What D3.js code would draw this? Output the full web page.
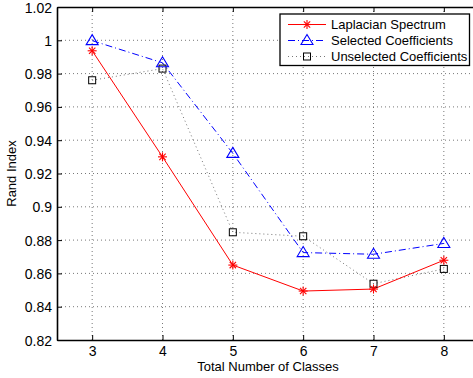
<!DOCTYPE html>
<html>
<head>
<meta charset="utf-8">
<script src="https://cdn.jsdelivr.net/npm/d3@7"></script>
<style>
  html, body { margin: 0; padding: 0; background: #fff; }
  svg { display: block; font-family: "Liberation Sans", Arial, sans-serif; }
</style>
</head>
<body>
<svg id="chart" width="473" height="378"></svg>
<script>
// Rand index versus the number of classes for three feature sets
const classes = [3, 4, 5, 6, 7, 8];
const laplacian = [0.9937, 0.930, 0.865, 0.8494, 0.8506, 0.8679];
const selected = [0.9998, 0.9865, 0.9321, 0.8725, 0.8715, 0.8780];
const unselected = [0.976, 0.983, 0.8847, 0.8823, 0.8538, 0.8627];
const yTicks = [0.82, 0.84, 0.86, 0.88, 0.9, 0.92, 0.94, 0.96, 0.98, 1, 1.02];
const seriesNames = ["Laplacian Spectrum", "Selected Coefficients", "Unselected Coefficients"];

const svg = d3.select("#chart");
const m = { left: 57, top: 7, right: 479, bottom: 340 };

const x = d3.scaleLinear().domain([2.5, 8.5]).range([m.left, m.right]);
const y = d3.scaleLinear().domain([0.82, 1.02]).range([m.bottom, m.top]);

// dotted grid
const grid = svg.append("g").attr("stroke", "#555").attr("stroke-width", 0.8)
  .attr("stroke-dasharray", "1,3");
classes.forEach(c => grid.append("line")
  .attr("x1", x(c)).attr("x2", x(c)).attr("y1", m.top).attr("y2", m.bottom));
yTicks.slice(1, -1).forEach(t => grid.append("line")
  .attr("x1", m.left).attr("x2", m.right).attr("y1", y(t)).attr("y2", y(t)));

// axes with inward ticks
const xAxis = svg.append("g").attr("transform", `translate(0,${m.bottom})`)
  .call(d3.axisBottom(x).tickValues(classes).tickFormat(d3.format("d"))
    .tickSizeInner(-5).tickSizeOuter(0).tickPadding(6));
const xTop = svg.append("g").attr("transform", `translate(0,${m.top})`)
  .call(d3.axisTop(x).tickValues(classes).tickSizeInner(-5).tickSizeOuter(0).tickFormat(""));
const yAxis = svg.append("g").attr("transform", `translate(${m.left},0)`)
  .call(d3.axisLeft(y).tickValues(yTicks).tickFormat(d => d3.format("")(+d.toFixed(2)))
    .tickSizeInner(-5).tickSizeOuter(0).tickPadding(5));
[xAxis, xTop, yAxis].forEach(a => {
  a.select(".domain").attr("stroke", "#000").attr("stroke-width", 1.6);
  a.selectAll(".tick line").attr("stroke", "#000");
  a.selectAll(".tick text").attr("fill", "#000").style("font-size", "14px");
});
yAxis.selectAll(".tick text").attr("dy", "0.36em");

// axis titles
svg.append("text").attr("x", x(5.5)).attr("y", 371).attr("text-anchor", "middle")
  .style("font-size", "13px").text("Total Number of Classes");
svg.append("text").attr("transform", `translate(16,${y(0.92)}) rotate(-90)`)
  .attr("text-anchor", "middle").style("font-size", "13px").text("Rand Index");

const line = d3.line().x((d, i) => x(classes[i])).y(d => y(d));

function star(g, cx, cy, r, color) {
  for (let k = 0; k < 4; k++) {
    const a = k * Math.PI / 4;
    g.append("line").attr("x1", cx - r * Math.cos(a)).attr("y1", cy - r * Math.sin(a))
      .attr("x2", cx + r * Math.cos(a)).attr("y2", cy + r * Math.sin(a))
      .attr("stroke", color).attr("stroke-width", 1.1);
  }
}
function tri(g, cx, cy, color) {
  g.append("path").attr("d", `M${cx},${cy - 6}L${cx + 6},${cy + 4}L${cx - 6},${cy + 4}Z`)
    .attr("fill", "none").attr("stroke", color).attr("stroke-width", 1.1);
}
function sq(g, cx, cy) {
  g.append("rect").attr("x", cx - 3.5).attr("y", cy - 3.5).attr("width", 7).attr("height", 7)
    .attr("fill", "none").attr("stroke", "#000").attr("stroke-width", 1);
}

const plot = svg.append("g");
plot.append("path").datum(unselected).attr("d", line).attr("fill", "none")
  .attr("stroke", "#777").attr("stroke-width", 1).attr("stroke-dasharray", "1,3");
plot.append("path").datum(selected).attr("d", line).attr("fill", "none")
  .attr("stroke", "#0000ff").attr("stroke-width", 1).attr("stroke-dasharray", "7,3,1,3");
plot.append("path").datum(laplacian).attr("d", line).attr("fill", "none")
  .attr("stroke", "#ff0000").attr("stroke-width", 1);
unselected.forEach((v, i) => sq(plot, x(classes[i]), y(v)));
selected.forEach((v, i) => tri(plot, x(classes[i]), y(v), "#0000ff"));
laplacian.forEach((v, i) => star(plot, x(classes[i]), y(v), 4.5, "#ff0000"));

// legend
const lg = svg.append("g");
lg.append("rect").attr("x", 280).attr("y", 14).attr("width", 189.5).attr("height", 51.5)
  .attr("fill", "#fff").attr("stroke", "#000").attr("stroke-width", 1.3);
const rows = [24.5, 40.5, 56.5];
const styles = [
  { stroke: "#ff0000", dash: null },
  { stroke: "#0000ff", dash: "7,3,1,3" },
  { stroke: "#777", dash: "1,3" }
];
rows.forEach((ry, i) => {
  lg.append("line").attr("x1", 288).attr("x2", 326).attr("y1", ry).attr("y2", ry)
    .attr("stroke", styles[i].stroke).attr("stroke-width", 1)
    .attr("stroke-dasharray", styles[i].dash);
  if (i === 0) star(lg, 307, ry, 4.5, "#ff0000");
  if (i === 1) tri(lg, 307, ry, "#0000ff");
  if (i === 2) sq(lg, 307, ry);
  lg.append("text").attr("x", 331).attr("y", ry).attr("dy", "0.36em")
    .style("font-size", "13px").text(seriesNames[i]);
});
</script>
</body>
</html>
